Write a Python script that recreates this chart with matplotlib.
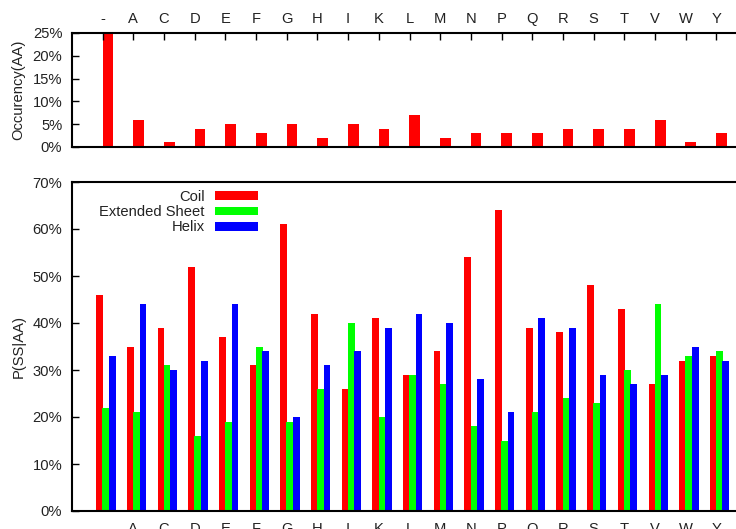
import numpy as np
import matplotlib
matplotlib.use('Agg')
import matplotlib.pyplot as plt
from matplotlib.patches import Patch
from matplotlib.ticker import FuncFormatter

plt.rcParams['font.family'] = ['Liberation Sans', 'DejaVu Sans']
FS = 10.6
plt.rcParams['font.size'] = FS

# amino acid categories
aa = ['-', 'A', 'C', 'D', 'E', 'F', 'G', 'H', 'I', 'K', 'L',
      'M', 'N', 'P', 'Q', 'R', 'S', 'T', 'V', 'W', 'Y']

# occurrence of each residue (%)
occurrence = [25, 6, 1, 4, 5, 3, 5, 2, 5, 4, 7,
              2, 3, 3, 3, 4, 4, 4, 6, 1, 3]

# P(SS|AA) in %
coil = [46, 35, 39, 52, 37, 31, 61, 42, 26, 41, 29,
        34, 54, 64, 39, 38, 48, 43, 27, 32, 33]
sheet = [22, 21, 31, 16, 19, 35, 19, 26, 40, 20, 29,
         27, 18, 15, 21, 24, 23, 30, 44, 33, 34]
helix = [33, 44, 30, 32, 44, 34, 20, 31, 34, 39, 42,
         40, 28, 21, 41, 39, 29, 27, 29, 35, 32]

series_names = ['Coil', 'Extended Sheet', 'Helix']
series_colors = ['#ff0000', '#00ff00', '#0000ff']

text_col = '#222222'
pct = FuncFormatter(lambda v, p: f'{v:.0f}%')
x = np.arange(len(aa))

W, H = 736, 529
fig = plt.figure(figsize=(W / 100, H / 100), dpi=100)

# axes positions in pixels (left, top, right, bottom)
def px_axes(l, t, r, b):
    return fig.add_axes([l / W, (H - b) / H, (r - l) / W, (b - t) / H])

ax1 = px_axes(72, 33, 747, 147)
ax2 = px_axes(72, 182, 747, 511)

for ax in (ax1, ax2):
    ax.set_xlim(-1, 21)
    ax.spines['right'].set_visible(False)
    for s in ('left', 'top', 'bottom'):
        ax.spines[s].set_linewidth(1.5)
        ax.spines[s].set_color('black')
    ax.yaxis.set_major_formatter(pct)
    ax.tick_params(axis='y', direction='in', length=5, width=1,
                   pad=7, labelsize=FS, labelcolor=text_col)
    ax.set_xticks(x)
    ax.set_xticklabels(aa)

# top panel: occurrence
ax1.bar(x + 0.17, occurrence, width=0.35, color='#ff0000')
ax1.set_ylim(0, 25)
ax1.set_yticks(np.arange(0, 26, 5))
ax1.tick_params(axis='x', top=True, bottom=False, labeltop=True,
                labelbottom=False, direction='in', length=5, width=1,
                pad=5, labelsize=FS, labelcolor=text_col)
ax1.set_ylabel('Occurency(AA)', fontsize=FS, color=text_col, labelpad=5)

# bottom panel: P(SS|AA)
offsets = [-0.1, 0.1, 0.31]
for vals, off, col in zip([coil, sheet, helix], offsets, series_colors):
    ax2.bar(x + off, vals, width=0.22, color=col)
ax2.set_ylim(0, 70)
ax2.set_yticks(np.arange(0, 71, 10))
ax2.tick_params(axis='x', length=0, pad=8, labelsize=FS, labelcolor=text_col)
ax2.set_ylabel('P(SS|AA)', fontsize=FS, color=text_col, labelpad=5)

handles = [Patch(facecolor=c, edgecolor='none') for c in series_colors]
ax2.legend(handles, series_names, loc='upper right',
           bbox_to_anchor=(258 / W, (H - 190) / H),
           bbox_transform=fig.transFigure, frameon=False, markerfirst=False,
           borderpad=0, borderaxespad=0, handlelength=2.95, handleheight=0.55,
           handletextpad=0.68, labelspacing=0.08, fontsize=FS,
           labelcolor=text_col)

fig.savefig('out.png', dpi=100)
